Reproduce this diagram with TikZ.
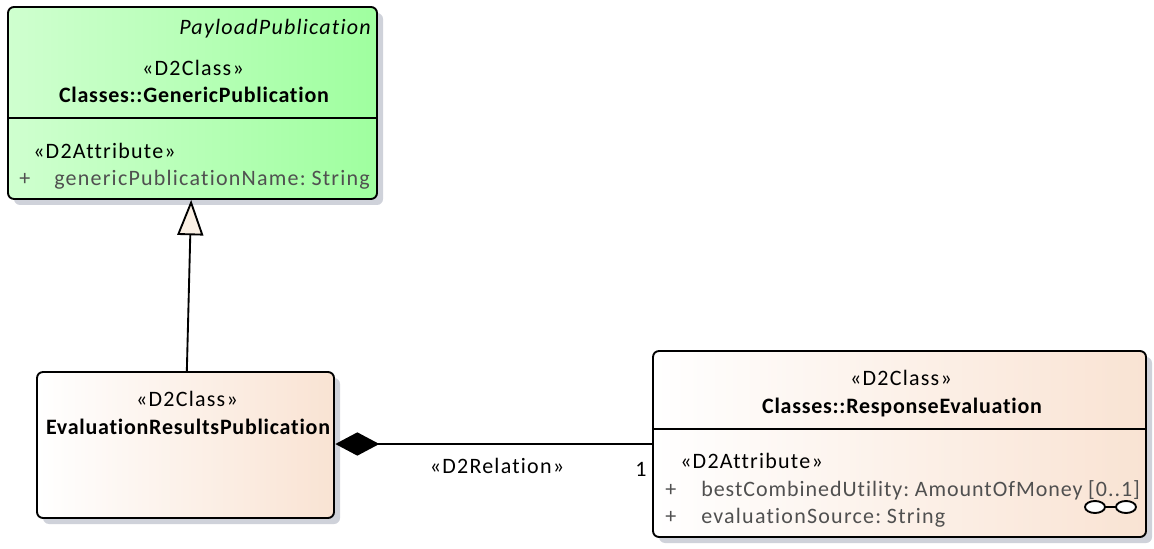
\documentclass[tikz,border=0pt]{standalone}
\usepackage{fontspec}
\setmainfont{Carlito}[WordSpace=0.6,LetterSpace=5.6,Ligatures=NoCommon,BoldFeatures={LetterSpace=3.4,WordSpace=0.6}]
\usetikzlibrary{arrows.meta,shadows,calc}
\definecolor{greenL}{HTML}{CFFFCF}
\definecolor{greenR}{HTML}{9FFF9F}
\definecolor{creamL}{HTML}{FFFFFF}
\definecolor{creamR}{HTML}{F9E3D3}
\definecolor{shade}{HTML}{CFD2DA}
\definecolor{attr}{HTML}{505050}
\definecolor{tipfill}{HTML}{FBF0E4}
\tikzset{
  x=0.75pt,y=-0.75pt,
  classbox/.style={draw=black,line width=1.4pt,rounded corners=4.5pt,inner sep=0pt,
    drop shadow={shadow xshift=4.5pt,shadow yshift=-4.5pt,fill=shade,opacity=1}},
  greenbox/.style={classbox,left color=greenL,right color=greenR},
  creambox/.style={classbox,left color=creamL,right color=creamR},
  divider/.style={line width=1.4pt},
  conn/.style={line width=1.4pt},
  lbl/.style={font=\fontsize{16.5}{18}\selectfont,inner sep=0pt,text=black},
  attrlbl/.style={lbl,text=attr,anchor=base west},
  stereo/.style={lbl,anchor=base},
  title/.style={lbl,anchor=base,font=\fontsize{16.5}{18}\selectfont\bfseries},
}
\begin{document}
\begin{tikzpicture}
\useasboundingbox (0,0) rectangle (1154,549);
\node[greenbox,minimum width=276.75pt,minimum height=144pt] (gen) at (192.5,103) {};
\node[creambox,minimum width=222.75pt,minimum height=109.5pt] (erp) at (185.5,445) {};
\node[creambox,minimum width=369.75pt,minimum height=139.5pt] (res) at (899.5,444) {};
\draw[divider] (8,118) coordinate (genD1) -- (377,118) coordinate (genD2);
\draw[divider] (653,429) coordinate (resD1) -- (1146,429) coordinate (resD2);
% text: green
\node[lbl,anchor=base east,font=\fontsize{16.5}{18}\selectfont\itshape] (t1) at (371,34.5) {PayloadPublication};
\node[stereo] (t2) at (193,75.5) {«D2Class»};
\node[title] (t3) at (194,102.5) {Classes::GenericPublication};
\node[lbl,anchor=base west] (t4) at (33,158.5) {«D2Attribute»};
\node[attrlbl] (t5) at (19,185.5) {+};
\node[attrlbl] (t6) at (54,185.5) {genericPublicationName: String};
% text: evaluation
\node[stereo] (t7) at (187,406.5) {«D2Class»};
\node[title] (t8) at (188,434.5) {EvaluationResultsPublication};
% text: response
\node[stereo] (t9) at (901,385.5) {«D2Class»};
\node[title] (t10) at (902,413.5) {Classes::ResponseEvaluation};
\node[lbl,anchor=base west] (t11) at (680,468.5) {«D2Attribute»};
\node[attrlbl] (t12) at (665,496.5) {+};
\node[attrlbl] (t13) at (701,496.5) {\addfontfeature{LetterSpace=4.4}bestCombinedUtility: AmountOfMoney\hspace{1.5pt} [0..1]};
\node[attrlbl] (t14) at (665,523.5) {+};
\node[attrlbl] (t15) at (701,523.5) {evaluationSource: String};
% connectors
\coordinate (genTip) at ([xshift=-1pt]gen.south);
\coordinate (erpTop) at ([xshift=1pt]erp.north);
\draw[conn,-{Triangle[open,fill=tipfill,length=26.5pt,width=19.5pt]}] (erpTop) -- (genTip);
\coordinate (resLeft) at (res.west |- 0,444);
\coordinate (erpRight) at (erp.east |- 0,444);
\draw[conn,{Diamond[fill=black,length=33pt,width=17.5pt]}-] ([xshift=0.3pt]erpRight) -- (resLeft);
\node[lbl,anchor=base] (rel) at (497,473.5) {«D2Relation»};
\node[lbl,anchor=base] (mult) at (641,476.5) {1};
% glasses
\draw[line width=1.4pt,fill=white] (1095,507) ellipse (7.5pt and 4.5pt);
\draw[line width=1.4pt,fill=white] (1126,507) ellipse (7.5pt and 4.5pt);
\draw[line width=1.4pt] (1105,507) -- (1116,507);
\end{tikzpicture}
\end{document}
